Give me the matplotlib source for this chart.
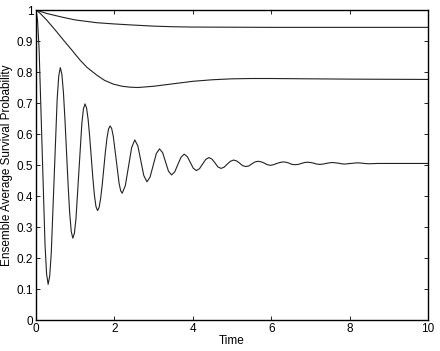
import matplotlib
matplotlib.use("Agg")
import matplotlib.pyplot as plt

# ---- Data --------------------------------------------------------------------
# slowly decaying curve (top)
t_top = [0.0, 0.27, 0.5, 0.7, 1.0, 1.55, 2.0, 2.4, 3.0, 3.5, 4.0, 6.0, 8.0, 10.0]
p_top = [1.0, 0.989, 0.982, 0.976, 0.968, 0.959, 0.955, 0.952, 0.948, 0.946,
         0.945, 0.944, 0.944, 0.944]

# decaying curve with shallow minimum (middle)
t_mid = [0.0, 0.1, 0.27, 0.5, 0.7, 0.9, 1.12, 1.3, 1.55, 1.75, 1.97, 2.2, 2.4,
         2.6, 3.0, 3.5, 4.0, 4.5, 5.0, 5.5, 6.0, 7.0, 8.0, 10.0]
p_mid = [1.0, 0.990, 0.968, 0.934, 0.903, 0.873, 0.839, 0.815, 0.790, 0.773,
         0.761, 0.754, 0.751, 0.750, 0.754, 0.762, 0.770, 0.775, 0.778, 0.779,
         0.779, 0.778, 0.777, 0.776]

# damped oscillation (bottom)
t_osc = [0.00, 0.04, 0.08, 0.115, 0.155, 0.195, 0.23, 0.27, 0.31,
         0.35, 0.39, 0.425, 0.465, 0.505, 0.54, 0.58, 0.62,
         0.66, 0.70, 0.74, 0.78, 0.82, 0.86, 0.90, 0.94,
         0.98, 1.02, 1.055, 1.095, 1.135, 1.17, 1.21, 1.25,
         1.29, 1.33, 1.37, 1.41, 1.45, 1.49, 1.53, 1.57,
         1.61, 1.65, 1.69, 1.73, 1.77, 1.81, 1.85, 1.89,
         1.93, 1.97, 2.005, 2.045, 2.085, 2.12, 2.16, 2.20,
         2.28, 2.36, 2.44, 2.52,
         2.60, 2.675, 2.75, 2.83, 2.91, 2.99, 3.07, 3.15, 3.23, 3.305, 3.38,
         3.46, 3.54, 3.62, 3.70, 3.78, 3.86, 3.935, 4.01, 4.09, 4.17, 4.25,
         4.33, 4.41, 4.49, 4.565, 4.64, 4.72, 4.80, 4.88, 4.96, 5.04, 5.12,
         5.195, 5.27, 5.35, 5.43, 5.51, 5.59, 5.67, 5.75, 5.825, 5.90, 5.98,
         6.06, 6.14, 6.22, 6.30, 6.38, 6.455, 6.53, 6.61, 6.69, 6.77, 6.85,
         6.93, 7.01, 7.085, 7.16, 7.24, 7.32, 7.40, 7.48, 7.56, 7.64, 7.715,
         7.79, 7.87, 7.95, 8.03, 8.11, 8.19, 8.27, 8.345, 8.42, 8.50, 8.70,
         9.00, 10.00]
p_osc = [1.000, 0.966, 0.871, 0.727, 0.558, 0.389, 0.244, 0.149, 0.115,
         0.142, 0.217, 0.331, 0.465, 0.598, 0.712, 0.787, 0.814,
         0.793, 0.734, 0.644, 0.539, 0.434, 0.344, 0.285, 0.264,
         0.280, 0.327, 0.398, 0.481, 0.563, 0.634, 0.681, 0.697,
         0.684, 0.647, 0.591, 0.525, 0.459, 0.403, 0.366, 0.353,
         0.363, 0.393, 0.437, 0.490, 0.542, 0.586, 0.616, 0.626,
         0.618, 0.594, 0.559, 0.518, 0.476, 0.441, 0.417, 0.409,
         0.434, 0.495, 0.556, 0.581,
         0.561, 0.514, 0.466, 0.446, 0.461, 0.499, 0.537, 0.552, 0.540, 0.510,
         0.480, 0.468, 0.478, 0.502, 0.525, 0.535, 0.527, 0.509, 0.490, 0.482,
         0.488, 0.503, 0.518, 0.524, 0.519, 0.507, 0.494, 0.489, 0.493, 0.503,
         0.512, 0.516, 0.513, 0.506, 0.498, 0.495, 0.497, 0.504, 0.510, 0.512,
         0.510, 0.506, 0.501, 0.499, 0.501, 0.505, 0.508, 0.510, 0.509, 0.506,
         0.502, 0.501, 0.502, 0.505, 0.508, 0.509, 0.508, 0.506, 0.503, 0.502,
         0.503, 0.505, 0.507, 0.508, 0.507, 0.506, 0.504, 0.503, 0.504, 0.505,
         0.506, 0.507, 0.5065, 0.5055, 0.5045, 0.504, 0.505, 0.505, 0.505]

x_ticks = [0, 2, 4, 6, 8, 10]
y_ticks = [0, 0.1, 0.2, 0.3, 0.4, 0.5, 0.6, 0.7, 0.8, 0.9, 1]
y_labels = ["0", "0.1", "0.2", "0.3", "0.4", "0.5", "0.6", "0.7", "0.8", "0.9", "1"]

plt.rcParams["font.family"] = ["Liberation Sans", "DejaVu Sans"]

fig = plt.figure(figsize=(4.40, 3.51), dpi=100)
ax = fig.add_axes([0.0818, 0.0883, 0.8909, 0.8832])

for t, p in ((t_top, p_top), (t_mid, p_mid), (t_osc, p_osc)):
    ax.plot(t, p, color="#222222", lw=0.8)

ax.set_xlim(0, 10)
ax.set_ylim(0, 1)
ax.set_xticks(x_ticks)
ax.set_yticks(y_ticks)
ax.set_yticklabels(y_labels)
ax.tick_params(direction="in", length=3, width=0.6, labelsize=8.5,
               top=True, right=True, pad=2, colors="black")
for s in ax.spines.values():
    s.set_linewidth(1.0)

ax.set_xlabel("Time", fontsize=8.5, labelpad=0)
ax.set_ylabel("Ensemble Average Survival Probability", fontsize=8.5, labelpad=3)

fig.savefig("out.png", dpi=100)
